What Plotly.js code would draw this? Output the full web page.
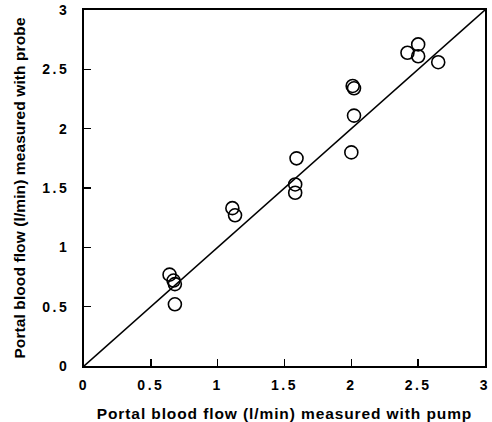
<!DOCTYPE html>
<html>
<head>
<meta charset="utf-8">
<script src="https://cdn.plot.ly/plotly-3.0.1.min.js"></script>
<style>
body{margin:0;background:#fff;}
#chart .xtick text,#chart .ytick text{letter-spacing:2.5px;}
#chart .g-xtitle text{letter-spacing:0.9px;}
#chart .g-ytitle text{letter-spacing:0.1px;}
</style>
</head>
<body>
<div id="chart" style="width:492px;height:422px;"></div>
<script>
var pumpFlow = [0.64, 0.67, 0.68, 0.68, 1.11, 1.13, 1.59, 1.58, 1.58, 2.00, 2.02, 2.01, 2.02, 2.42, 2.50, 2.50, 2.65];
var probeFlow = [0.77, 0.72, 0.69, 0.52, 1.33, 1.27, 1.75, 1.53, 1.46, 1.80, 2.11, 2.36, 2.34, 2.64, 2.71, 2.61, 2.56];
var identityX = [0, 3];
var identityY = [0, 3];
var tickVals = [0, 0.5, 1, 1.5, 2, 2.5, 3];
var tickText = ["0", "0.5", "1", "1.5", "2", "2.5", "3"];

var traces = [
  {x: identityX, y: identityY, mode: 'lines', type: 'scatter',
   line: {color: '#000', width: 1.6}, hoverinfo: 'skip', showlegend: false},
  {x: pumpFlow, y: probeFlow, mode: 'markers', type: 'scatter', showlegend: false,
   marker: {symbol: 'circle-open', size: 13, color: '#000', line: {width: 1.6, color: '#000'}}}
];

var fam = 'Liberation Sans, Arial, sans-serif';
var tickFont = {family: fam, size: 14, color: '#000', weight: 'bold'};
var titleFont = {family: fam, size: 15.5, color: '#000', weight: 'bold'};
var layout = {
  width: 492, height: 422,
  margin: {l: 84, r: 7, t: 10, b: 56},
  paper_bgcolor: '#fff', plot_bgcolor: '#fff',
  showlegend: false,
  xaxis: {range: [0, 3], tickvals: tickVals, ticktext: tickText, ticks: 'inside', ticklen: 7, tickwidth: 1.5,
          tickcolor: '#000', showline: true, linecolor: '#000', linewidth: 2, mirror: true,
          showgrid: false, zeroline: false, tickfont: tickFont, ticklabelstandoff: 5,
          title: {text: 'Portal blood flow (l/min) measured with pump', standoff: 16, font: titleFont}},
  yaxis: {range: [0, 3], tickvals: tickVals, ticktext: tickText, ticks: 'inside', ticklen: 7, tickwidth: 1.5,
          tickcolor: '#000', showline: true, linecolor: '#000', linewidth: 2, mirror: true,
          showgrid: false, zeroline: false, tickfont: tickFont, ticklabelstandoff: 10,
          title: {text: 'Portal blood flow (l/min) measured with probe', standoff: 20, font: titleFont}}
};
Plotly.newPlot('chart', traces, layout, {displayModeBar: false, staticPlot: true});
</script>
</body>
</html>
